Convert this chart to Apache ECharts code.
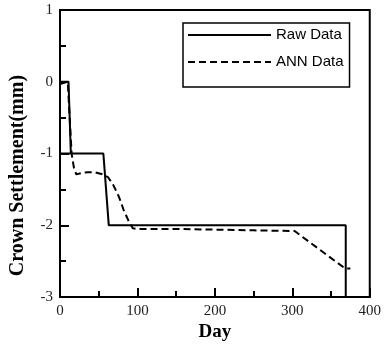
<!DOCTYPE html>
<html>
<head>
<meta charset="utf-8">
<script src="https://cdn.jsdelivr.net/npm/echarts@6/dist/echarts.min.js"></script>
<style>html,body{margin:0;padding:0;background:#fff;}#c{width:384px;height:347px;}</style>
</head>
<body>
<div id="c"></div>
<script>
var rawDays = [0, 11, 14, 0, 56, 63, 369, 369];
var rawValues = [0, 0, -1, -1, -1, -2, -2, -3];
var annDays = [0, 10, 15, 18, 21, 28, 36, 45, 55, 62, 68, 76, 82, 89, 94, 99, 150, 200, 250, 303, 368, 375];
var annValues = [-0.03, 0, -1.0, -1.2, -1.29, -1.27, -1.26, -1.26, -1.29, -1.33, -1.42, -1.60, -1.78, -1.95, -2.04, -2.05, -2.05, -2.06, -2.07, -2.08, -2.6, -2.6];
var seriesNames = ['Raw Data', 'ANN Data'];
var xTitle = 'Day';
var yTitle = 'Crown Settlement(mm)';

function pairs(xs, ys) { return xs.map(function (x, i) { return [x, ys[i]]; }); }

var chart = echarts.init(document.getElementById('c'), null, { renderer: 'canvas' });
var serif = '"Liberation Serif", "Times New Roman", serif';
chart.setOption({
  animation: false,
  backgroundColor: '#fff',
  grid: { left: 55, right: 13, top: 10, bottom: 45, show: true, borderColor: '#000', borderWidth: 2, backgroundColor: 'transparent' },
  legend: {
    orient: 'vertical', left: 183, top: 23,
    padding: [4, 6, 17, 4],
    borderColor: '#000', borderWidth: 1.5,
    itemWidth: 83, itemHeight: 16, itemGap: 11,
    itemStyle: { opacity: 0 },
    textStyle: { fontFamily: '"Liberation Sans", Arial, sans-serif', fontSize: 15, color: '#000', lineHeight: 16 },
    data: seriesNames
  },
  xAxis: {
    type: 'value', min: 0, max: 400, interval: 100,
    name: xTitle, nameLocation: 'middle', nameGap: 21,
    nameTextStyle: { fontFamily: serif, fontWeight: 'bold', fontSize: 19, color: '#000' },
    axisLine: { onZero: false, lineStyle: { color: '#000', width: 2 } },
    axisTick: { inside: true, length: 9, lineStyle: { color: '#000', width: 2 } },
    minorTick: { show: true, splitNumber: 2, length: 6, lineStyle: { color: '#000', width: 2 } },
    axisLabel: { fontFamily: serif, fontSize: 15, color: '#222', margin: 6 },
    splitLine: { show: false }
  },
  yAxis: {
    type: 'value', min: -3, max: 1, interval: 1,
    name: yTitle, nameLocation: 'middle', nameGap: 32, nameRotate: 90,
    nameTextStyle: { fontFamily: serif, fontWeight: 'bold', fontSize: 20, color: '#000', padding: [0, 44, 0, 0] },
    axisLine: { onZero: false, lineStyle: { color: '#000', width: 2 } },
    axisTick: { inside: true, length: 9, lineStyle: { color: '#000', width: 2 } },
    minorTick: { show: true, splitNumber: 2, length: 6, lineStyle: { color: '#000', width: 2 } },
    axisLabel: { fontFamily: serif, fontSize: 15, color: '#222', margin: 7 },
    splitLine: { show: false }
  },
  series: [
    { name: seriesNames[0], type: 'line', data: pairs(rawDays, rawValues), showSymbol: false, symbol: 'none',
      lineStyle: { color: '#000', width: 2, type: 'solid' }, itemStyle: { color: '#000' } },
    { name: seriesNames[1], type: 'line', data: pairs(annDays, annValues), showSymbol: false, symbol: 'none',
      lineStyle: { color: '#000', width: 2, type: [7, 4] }, itemStyle: { color: '#000' } }
  ]
});
</script>
</body>
</html>
